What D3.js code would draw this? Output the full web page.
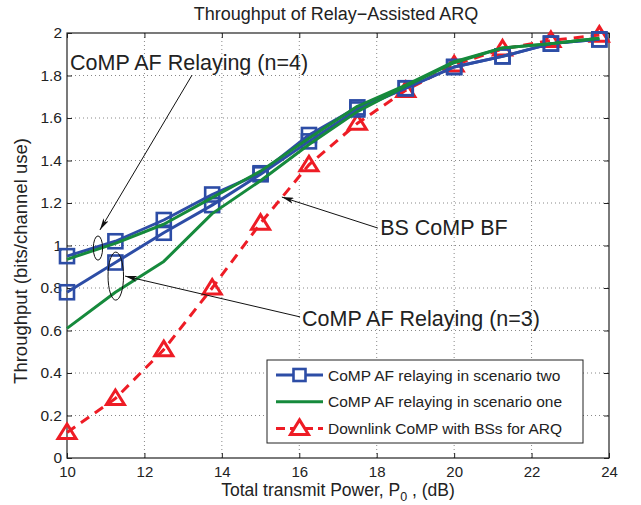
<!DOCTYPE html>
<html><head><meta charset="utf-8">
<script src="https://cdn.jsdelivr.net/npm/d3@7"></script>
<style>body{margin:0;background:#fff;} text{font-family:"Liberation Sans",Arial,sans-serif;fill:#222;}</style>
</head><body>
<svg id="c" width="641" height="505"></svg>
<script>
const powerDb = [10, 11.25, 12.5, 13.75, 15, 16.25, 17.5, 18.75, 20, 21.25, 22.5, 23.75];
const scenarioTwoN4 = [0.95, 1.02, 1.12, 1.24, 1.34, 1.52, 1.65, 1.74, 1.84, 1.89, 1.95, 1.97];
const scenarioTwoN3 = [0.78, 0.92, 1.06, 1.19, 1.335, 1.49, 1.64, 1.74, 1.84, 1.89, 1.95, 1.97];
const scenarioOneN4 = [0.935, 1.01, 1.10, 1.225, 1.35, 1.505, 1.655, 1.755, 1.865, 1.93, 1.95, 1.975];
const scenarioOneN3 = [0.61, 0.78, 0.925, 1.15, 1.305, 1.475, 1.63, 1.75, 1.86, 1.93, 1.95, 1.975];
const downlinkBs = [0.12, 0.28, 0.51, 0.80, 1.105, 1.38, 1.575, 1.73, 1.85, 1.925, 1.965, 1.99];
const xTicks = [10, 12, 14, 16, 18, 20, 22, 24];
const yTicks = [0, 0.2, 0.4, 0.6, 0.8, 1, 1.2, 1.4, 1.6, 1.8, 2];
const legendLabels = ["CoMP AF relaying in scenario two", "CoMP AF relaying in scenario one", "Downlink CoMP with BSs for ARQ"];
const titleText = "Throughput of Relay\u2212Assisted ARQ";
const xLabelMain = "Total transmit Power, P";
const xLabelSub = "0";
const xLabelEnd = " , (dB)";
const yLabelText = "Throughput (bits/channel use)";
const annotations = [
  {text: "CoMP AF Relaying (n=4)", tx: 10.08, ty: 1.826, ax0: 13.23, ay0: 1.802, ax1: 10.85, ay1: 1.073},
  {text: "BS CoMP BF", tx: 18.09, ty: 1.049, ax0: 18.03, ay0: 1.082, ax1: 15.55, ay1: 1.228},
  {text: "CoMP AF Relaying (n=3)", tx: 16.07, ty: 0.621, ax0: 16.02, ay0: 0.664, ax1: 11.50, ay1: 0.856}
];
const ellipses = [
  {cx: 10.8, cy: 0.988, rx: 0.12, ry: 0.057},
  {cx: 11.26, cy: 0.856, rx: 0.2, ry: 0.113}
];

const BLUE = "#2D4DA6", GREEN = "#168A3C", RED = "#EE1C25";
const svg = d3.select("#c");
const L = 67, R = 609, T = 33, B = 458;
const x = d3.scaleLinear().domain([10, 24]).range([L, R]);
const y = d3.scaleLinear().domain([0, 2]).range([B, T]);

// grid
const grid = svg.append("g");
xTicks.slice(1, -1).forEach(t => grid.append("line").attr("x1", x(t)).attr("x2", x(t)).attr("y1", T).attr("y2", B)
  .attr("stroke", "#888").attr("stroke-width", 1).attr("stroke-dasharray", "1,3"));
yTicks.slice(1, -1).forEach(t => grid.append("line").attr("y1", y(t)).attr("y2", y(t)).attr("x1", L).attr("x2", R)
  .attr("stroke", "#888").attr("stroke-width", 1).attr("stroke-dasharray", "1,3"));

// axes
const xAxis = d3.axisBottom(x).tickValues(xTicks).tickSize(-5).tickPadding(8).tickFormat(d3.format("d"));
const yAxis = d3.axisLeft(y).tickValues(yTicks).tickSize(-5).tickPadding(5).tickFormat(d => d3.format("")(+d.toFixed(1)));
const gx = svg.append("g").attr("transform", `translate(0,${B})`).call(xAxis);
const gy = svg.append("g").attr("transform", `translate(${L},0)`).call(yAxis);
const gxt = svg.append("g").attr("transform", `translate(0,${T})`).call(d3.axisTop(x).tickValues(xTicks).tickSize(-5).tickFormat(""));
const gyr = svg.append("g").attr("transform", `translate(${R},0)`).call(d3.axisRight(y).tickValues(yTicks).tickSize(-5).tickFormat(""));
[gx, gy, gxt, gyr].forEach(g => {
  g.select(".domain").remove();
  g.selectAll("line").attr("stroke", "#222");
  g.selectAll("text").style("font-size", "15.5px").attr("fill", "#222");
});
gx.selectAll("text").attr("dy", "0.71em").style("font-size", "15px");
svg.append("rect").attr("x", L).attr("y", T).attr("width", R - L).attr("height", B - T)
  .attr("fill", "none").attr("stroke", "#222").attr("stroke-width", 1.2);

// lines
const line = d3.line().x((d, i) => x(powerDb[i])).y(d => y(d));
const plot = svg.append("g");
function drawLine(vals, color, dash) {
  plot.append("path").datum(vals).attr("d", line).attr("fill", "none").attr("stroke", color)
    .attr("stroke-width", 3).attr("stroke-linejoin", "round").attr("stroke-dasharray", dash || null);
}
function drawSquares(vals) {
  plot.selectAll(null).data(vals).enter().append("rect")
    .attr("x", (d, i) => x(powerDb[i]) - 7).attr("y", d => y(d) - 7).attr("width", 14).attr("height", 14)
    .attr("fill", "none").attr("stroke", BLUE).attr("stroke-width", 2.6);
}
const tri = "M0,-8.5 L9,6 L-9,6 Z";
function drawTriangles(vals) {
  plot.selectAll(null).data(vals).enter().append("path")
    .attr("d", tri).attr("transform", (d, i) => `translate(${x(powerDb[i])},${y(d)})`)
    .attr("fill", "none").attr("stroke", RED).attr("stroke-width", 3).attr("stroke-linejoin", "miter");
}
drawLine(downlinkBs, RED, "10,7");
drawTriangles(downlinkBs);
drawLine(scenarioTwoN3, BLUE);
drawLine(scenarioTwoN4, BLUE);
drawSquares(scenarioTwoN3);
drawSquares(scenarioTwoN4);
drawLine(scenarioOneN3, GREEN);
drawLine(scenarioOneN4, GREEN);

// annotations
const defs = svg.append("defs");
defs.append("marker").attr("id", "ah").attr("viewBox", "0 0 12 6").attr("refX", 12).attr("refY", 3)
  .attr("markerWidth", 12).attr("markerHeight", 6).attr("markerUnits", "userSpaceOnUse").attr("orient", "auto")
  .append("path").attr("d", "M0,0 L12,3 L0,6 L3,3 Z").attr("fill", "#111");
const ann = svg.append("g");
ellipses.forEach(e => ann.append("ellipse").attr("cx", x(e.cx)).attr("cy", y(e.cy))
  .attr("rx", x(e.cx + e.rx) - x(e.cx)).attr("ry", y(e.cy) - y(e.cy + e.ry))
  .attr("fill", "none").attr("stroke", "#111").attr("stroke-width", 1));
annotations.forEach(a => {
  ann.append("line").attr("x1", x(a.ax0)).attr("y1", y(a.ay0)).attr("x2", x(a.ax1)).attr("y2", y(a.ay1))
    .attr("stroke", "#111").attr("stroke-width", 1).attr("marker-end", "url(#ah)");
  ann.append("text").attr("x", x(a.tx)).attr("y", y(a.ty)).text(a.text).style("font-size", "21.5px");
});

// legend
const lg = svg.append("g");
lg.append("rect").attr("x", 267).attr("y", 360).attr("width", 316).attr("height", 83)
  .attr("fill", "#fff").attr("stroke", "#222").attr("stroke-width", 1);
const rows = [
  {c: BLUE, m: "sq"}, {c: GREEN, m: null}, {c: RED, m: "tri"}
];
rows.forEach((r, i) => {
  const yy = 375 + i * 26.7;
  lg.append("line").attr("x1", 276).attr("x2", 323).attr("y1", yy).attr("y2", yy)
    .attr("stroke", r.c).attr("stroke-width", 3).attr("stroke-dasharray", r.m === "tri" ? "9,5" : null);
  if (r.m === "sq") lg.append("rect").attr("x", 299.5 - 6).attr("y", yy - 6).attr("width", 12).attr("height", 12)
    .attr("fill", "#fff").attr("stroke", r.c).attr("stroke-width", 2.6);
  if (r.m === "tri") lg.append("path").attr("d", tri).attr("transform", `translate(299.5,${yy})`)
    .attr("fill", "#fff").attr("stroke", r.c).attr("stroke-width", 3);
  lg.append("text").attr("x", 328).attr("y", yy + 5.5).text(legendLabels[i]).style("font-size", "15.5px");
});

// titles
svg.append("text").attr("x", 336).attr("y", 20).attr("text-anchor", "middle").text(titleText).style("font-size", "18px");
const xl = svg.append("text").attr("x", 338).attr("y", 496).attr("text-anchor", "middle").style("font-size", "17.5px");
xl.append("tspan").text(xLabelMain);
xl.append("tspan").text(xLabelSub).attr("dy", 5).style("font-size", "12.5px");
xl.append("tspan").text(xLabelEnd).attr("dy", -5);
svg.append("text").attr("transform", "translate(27,261) rotate(-90)").attr("text-anchor", "middle")
  .text(yLabelText).style("font-size", "18.5px");
</script>
</body></html>
